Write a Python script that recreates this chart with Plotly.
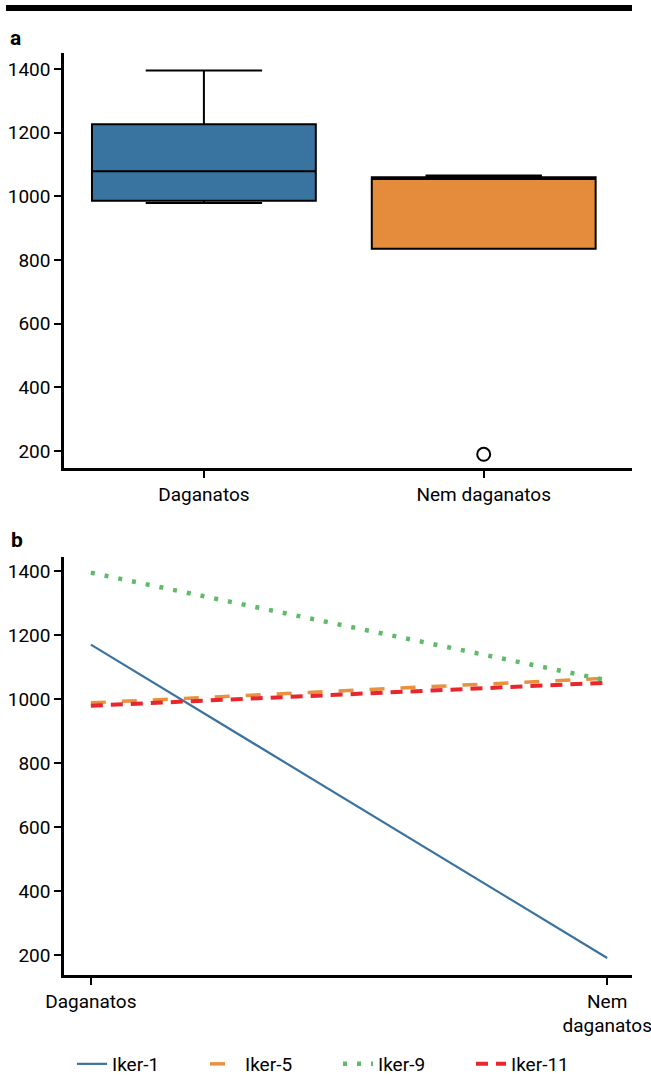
import numpy as np
import plotly.graph_objects as go

categories = ["Daganatos", "Nem daganatos"]
tick_text_b = ["Daganatos", "Nem<br>daganatos"]
series_names = ["Iker-1", "Iker-5", "Iker-9", "Iker-11"]
iker_1 = [1170, 190]
iker_5 = [988, 1065]
iker_9 = [1395, 1058]
iker_11 = [979, 1051]
y_ticks = [200, 400, 600, 800, 1000, 1200, 1400]

series = [iker_1, iker_5, iker_9, iker_11]
box_colors = ["#39739f", "#e48c3c"]
line_styles = [
    dict(color="#3a72a0", width=2.2, dash="solid"),
    dict(color="#e8913f", width=3.5, dash="15px,16px"),
    dict(color="#5fba6a", width=4.5, dash="4px,10px"),
    dict(color="#e8262d", width=4, dash="12px,8px"),
]

FONT = "Roboto, Liberation Sans, sans-serif"
FS = 19

fig = go.Figure()

# Panel a: boxes (stats computed from the group values)
for ci, cat in enumerate(categories):
    vals = np.array([s[ci] for s in series], dtype=float)
    q1, med, q3 = np.percentile(vals, [25, 50, 75])
    iqr = q3 - q1
    lo_lim, hi_lim = q1 - 1.5 * iqr, q3 + 1.5 * iqr
    inside = vals[(vals >= lo_lim) & (vals <= hi_lim)]
    lf = min(inside.min(), q1)
    uf = max(inside.max(), q3)
    fig.add_trace(go.Box(
        x=[cat], q1=[q1], median=[med], q3=[q3], lowerfence=[lf], upperfence=[uf],
        width=0.8, whiskerwidth=0.52, fillcolor=box_colors[ci],
        line=dict(color="black", width=2), boxpoints=False,
        showlegend=False, xaxis="x", yaxis="y",
    ))
    outl = vals[(vals < lo_lim) | (vals > hi_lim)]
    if len(outl):
        fig.add_trace(go.Scatter(
            x=[cat] * len(outl), y=outl, mode="markers",
            marker=dict(symbol="circle-open", size=13, color="black", line=dict(width=2)),
            showlegend=False, xaxis="x", yaxis="y",
        ))

# Panel b: lines
for name, vals, st in zip(series_names, series, line_styles):
    fig.add_trace(go.Scatter(
        x=categories, y=vals, mode="lines", name=name, line=st,
        xaxis="x2", yaxis="y2",
    ))

W, H = 651, 1075
ml, mr, mt, mb = 64, 19, 53, 100
ph = H - mt - mb
pw = W - ml - mr

def py(pix):
    return (H - mb - pix) / ph

def px(pix):
    return (pix - ml) / pw

axis_common = dict(
    showline=True, linecolor="black", linewidth=2.5, ticks="outside",
    ticklen=7, tickwidth=2, tickcolor="black", showgrid=False, zeroline=False,
    automargin=False, tickfont=dict(size=FS, color="black", family=FONT),
)

fig.update_layout(
    width=W, height=H,
    margin=dict(l=ml, r=mr, t=mt, b=mb, autoexpand=False),
    plot_bgcolor="white", paper_bgcolor="white",
    font=dict(family=FONT, color="black", size=FS),
    boxmode="overlay",
    xaxis=dict(domain=[0, 1], anchor="y", type="category", range=[-0.5, 1.53],
               categoryorder="array", categoryarray=categories, **axis_common),
    yaxis=dict(domain=[py(468), 1], anchor="x", range=[147, 1450],
               tickvals=y_ticks, **axis_common),
    xaxis2=dict(domain=[0, 1], anchor="y2", type="category", range=[-0.052, 1.048],
                categoryorder="array", categoryarray=categories,
                tickvals=categories, ticktext=tick_text_b, **axis_common),
    yaxis2=dict(domain=[0, py(557)], anchor="x2", range=[137, 1444],
                tickvals=y_ticks, **axis_common),
    legend=dict(orientation="h", x=px(72), xanchor="left", y=py(1064), yanchor="middle",
                font=dict(size=FS, family=FONT), tracegroupgap=0,
                entrywidth=88, entrywidthmode="pixels"),
    showlegend=True,
    shapes=[dict(type="line", xref="paper", yref="paper", x0=px(6), x1=px(632),
                 y0=py(8), y1=py(8), line=dict(color="black", width=6))],
    annotations=[
        dict(text="<b>a</b>", xref="paper", yref="paper", x=px(8), y=py(38),
             xanchor="left", yanchor="middle", showarrow=False, font=dict(size=21, family=FONT)),
        dict(text="<b>b</b>", xref="paper", yref="paper", x=px(9), y=py(540),
             xanchor="left", yanchor="middle", showarrow=False, font=dict(size=21, family=FONT)),
    ],
)

fig.write_html("out.html", config={"displayModeBar": False},
               post_script="document.body.style.margin='0';")
